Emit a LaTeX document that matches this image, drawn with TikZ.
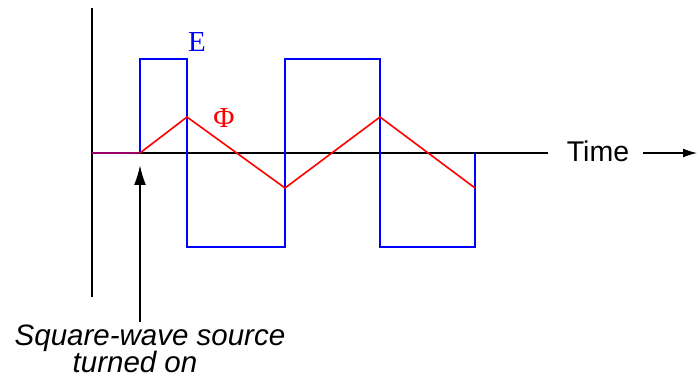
\documentclass[tikz,border=0pt]{standalone}
\usepackage{fontspec}
\newfontfamily\arial{Liberation Sans}
\newfontfamily\romanlbl{Liberation Serif}
\usetikzlibrary{arrows.meta}
\definecolor{offline}{RGB}{153,0,102}

\begin{document}
\begin{tikzpicture}[x=1pt,y=-1pt]
        \useasboundingbox (0,0) rectangle (699,379);

        \coordinate (top) at (92,8);
        \coordinate (bot) at (92,297);
        \coordinate (O) at (92,153);
        \coordinate (S) at (140,153);
        \coordinate (end) at (548,153);

        \draw[line width=2pt] (top)--(bot);
        \draw[line width=2pt] (O)--(end);

        \draw[blue, line width=2pt] (S)--(140,59)--(187,59)--(187,247)--(285,247)--(285,59)--(380,59)--(380,247)--(475,247)--(475,153);
        \draw[red, line width=1.6pt] (S)--(187,117)--(285,188)--(380,117)--(475,188);
        \draw[offline, line width=2pt] (O)--(S);

        \node[blue, font=\romanlbl\fontsize{29}{34}\selectfont, anchor=base] (E) at (197,52) {E};
        \node[red, font=\romanlbl\fontsize{29}{34}\selectfont, anchor=base] (phi) at (224,128) {Φ};

        \node[font=\arial\fontsize{28.5}{34}\selectfont] (time) at (598,151) {Time};
        \coordinate (t0) at (643,153);
        \coordinate (t1) at (697,153);
        \draw[line width=1.3pt, -{Latex[length=14pt,width=9pt]}] (t0)--(t1);

        \coordinate (a0) at (140,322);
        \coordinate (a1) at (140,165);
        \draw[line width=2pt, -{Latex[length=20pt,width=12pt]}] (a0)--(a1);

        \node[font=\arial\itshape\fontsize{29.5}{35}\selectfont, anchor=base] (src) at (150,345) {Square-wave source};
        \node[font=\arial\itshape\fontsize{29.5}{35}\selectfont, anchor=base] (on) at (135,372) {turned on};
\end{tikzpicture}
\end{document}
